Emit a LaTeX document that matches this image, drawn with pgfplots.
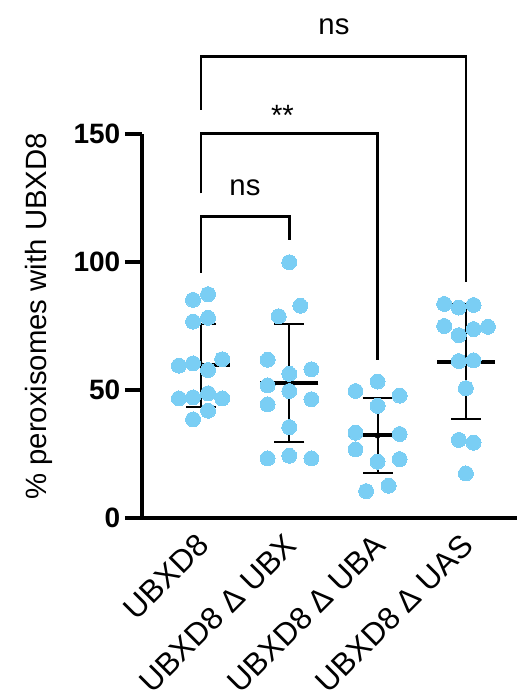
\documentclass[border=0pt]{standalone}
\usepackage{pgfplots}
\pgfplotsset{compat=1.18}
\usepackage{fontspec}
\setmainfont{Liberation Sans}
\definecolor{dotblue}{RGB}{122,206,244}
\begin{document}
\begin{tikzpicture}
\useasboundingbox (-106.5pt,-135pt) rectangle (281.25pt,388.5pt);
\begin{axis}[
  at={(0,0)}, anchor=south west,
  scale only axis, width=281.25pt, height=288pt,
  xmin=-0.668, xmax=3.579, ymin=0, ymax=150,
  axis x line=bottom, axis y line=left,
  axis line style={line width=2.4pt, -},
  clip=false,
  ytick={0,50,100,150},
  y tick style={line width=2.4pt, black},
  tick align=outside,
  major tick length=12.75pt,
  xtick={0,1,2,3},
  x tick style={draw=none},
  xticklabels={UBXD8, UBXD8 Δ UBX, UBXD8 Δ UBA, UBXD8 Δ UAS},
  xticklabel style={xshift=-4.5pt, yshift=2.5pt, rotate=45, anchor=north east, inner sep=0pt, font=\fontsize{23.5}{27}\selectfont},
  yticklabel style={font=\fontsize{21}{25}\selectfont\bfseries},
  /pgf/number format/assume math mode=true,
  ylabel={\% peroxisomes with UBXD8},
  ylabel style={at={(axis description cs:-0.275,0.525)}, rotate=0, anchor=center, font=\fontsize{22}{26}\selectfont},
]
% SD whiskers
\addplot[black, only marks, mark=none, error bars/.cd, y dir=both, y explicit,
  error bar style={line width=1.5pt, black},
  error mark=-, error mark options={rotate=90, mark size=11.25pt, line width=1.5pt, black}]
  coordinates {(0,59.7) +- (0,16.2) (1,52.7) +- (0,23.0) (2,32.2) +- (0,14.8) (3,61.1) +- (0,22.4)};
% means
\addplot[black, only marks, mark=-, mark size=21.75pt, mark options={line width=3pt, black}]
  coordinates {(0,59.7) (1,52.6) (2,32.4) (3,61.1)};
% data points
\addplot[dotblue, only marks, mark=*, mark size=5.6pt, mark options={fill=dotblue, draw=dotblue, line width=0pt}]
  coordinates {
  (-0.09,85.2) (0.08,87.4) (-0.09,76.7) (0.08,78.2) (-0.25,59.5) (-0.09,60.4) (0.24,62.0)
  (0.08,57.8) (-0.25,46.7) (-0.09,47.1) (0.08,48.7) (0.24,46.7) (0.08,41.9) (-0.09,38.5)
  (1.0,99.9) (1.125,82.9) (0.88,78.8) (0.755,61.8) (1.0,56.3) (1.25,58.1) (0.755,51.8)
  (1.0,49.6) (1.25,46.4) (0.755,44.4) (1.0,35.5) (0.755,23.3) (1.0,24.3) (1.25,23.3)
  (2.0,53.3) (1.75,49.6) (2.25,47.8) (2.0,43.8) (1.75,33.3) (2.25,32.8) (1.75,26.8)
  (2.0,22.0) (2.25,23.0) (1.87,10.5) (2.125,12.6)
  (2.755,83.6) (2.92,82.2) (3.087,83.2) (2.755,75.0) (2.92,71.4) (3.087,73.8) (3.25,74.7)
  (2.92,61.3) (3.087,61.6) (3.0,50.7) (2.92,30.5) (3.087,29.4) (3.0,17.4)
  };
% significance brackets
\addplot[black, line width=2pt, mark=none] coordinates {(0,159.4) (0,180.2) (3.0,180.2) (3.0,92.2)};
\addplot[black, line width=2pt, mark=none] coordinates {(0,126.8) (0,150.3) (2.0,150.3) (2.0,61.7)};
\addplot[black, line width=2pt, mark=none] coordinates {(0,95.8) (0,117.7) (1.0,117.7) (1.0,108.6)};
\node[anchor=base, font=\fontsize{22}{26}\selectfont] at (axis cs:1.506,188.7) {ns};
\node[anchor=base, font=\fontsize{22}{26}\selectfont] at (axis cs:0.923,153.3) {**};
\node[anchor=base, font=\fontsize{22}{26}\selectfont] at (axis cs:0.498,125.8) {ns};
\end{axis}
\end{tikzpicture}
\end{document}
